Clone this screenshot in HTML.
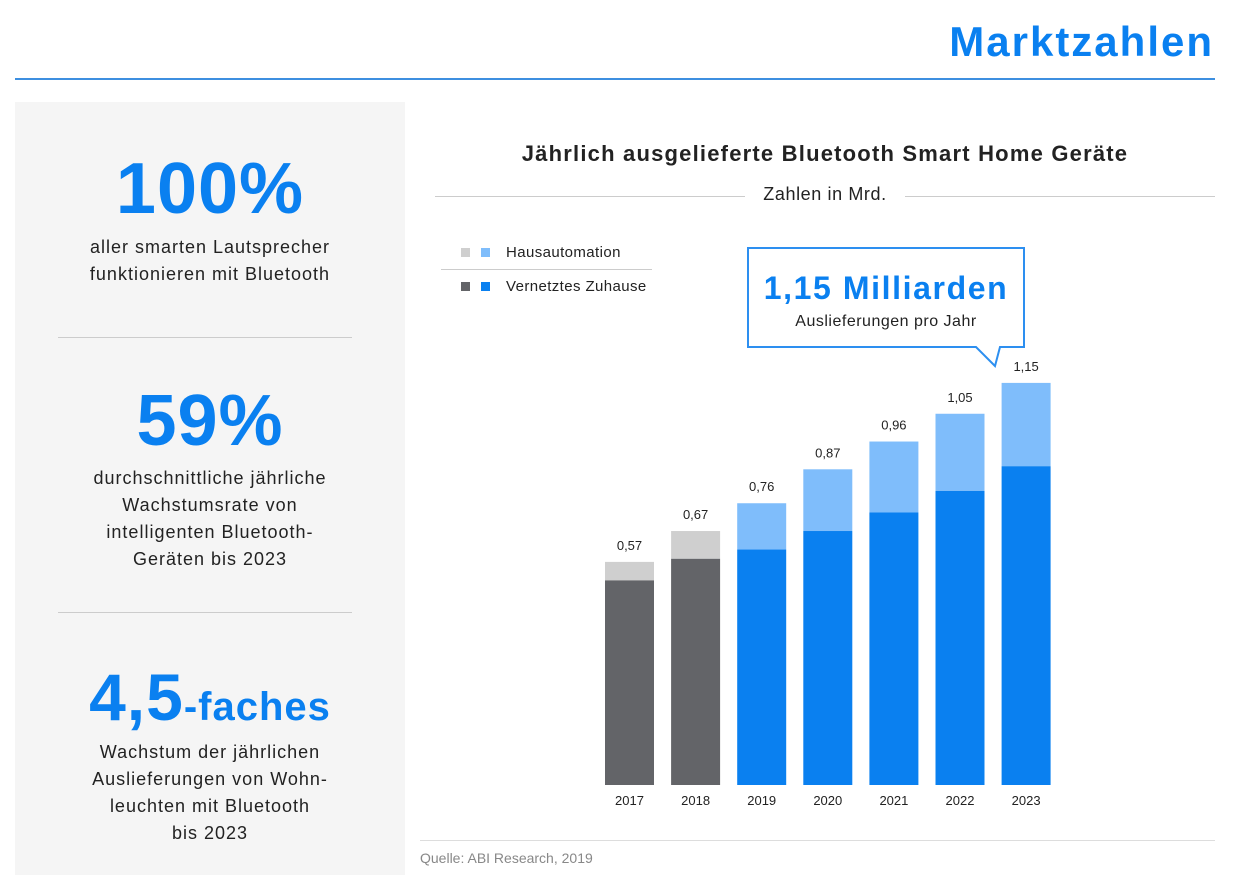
<!DOCTYPE html>
<html><head><meta charset="utf-8">
<style>
body{margin:0;width:1242px;height:875px;background:#fff;font-family:"Liberation Sans",sans-serif;position:relative;overflow:hidden}
.abs{position:absolute}
.big{color:#0a80f0;font-weight:bold;text-align:center;width:390px;left:15px}
.txt{color:#222;font-size:18px;line-height:27px;text-align:center;width:390px;left:15px;letter-spacing:1px}
</style></head><body>
<div class="abs" style="right:28px;top:18px;font-size:42px;font-weight:bold;color:#0a80f0;letter-spacing:2px">Marktzahlen</div>
<div class="abs" style="left:15px;top:78px;width:1200px;height:2px;background:#3d8fe0"></div>

<div class="abs" style="left:15px;top:102px;width:390px;height:773px;background:#f5f5f5"></div>
<div class="abs big" style="top:148px;font-size:72px;letter-spacing:1px">100%</div>
<div class="abs txt" style="top:234px">aller smarten Lautsprecher<br>funktionieren mit Bluetooth</div>
<div class="abs" style="left:58px;top:337px;width:294px;height:1px;background:#ccc"></div>
<div class="abs big" style="top:380px;font-size:72px;letter-spacing:1px">59%</div>
<div class="abs txt" style="top:465px">durchschnittliche jährliche<br>Wachstumsrate von<br>intelligenten Bluetooth-<br>Geräten bis 2023</div>
<div class="abs" style="left:58px;top:612px;width:294px;height:1px;background:#ccc"></div>
<div class="abs big" style="top:659px;font-size:66px;letter-spacing:1px">4,5<span style="font-size:40px">-faches</span></div>
<div class="abs txt" style="top:739px">Wachstum der jährlichen<br>Auslieferungen von Wohn-<br>leuchten mit Bluetooth<br>bis 2023</div>

<div class="abs" style="left:420px;width:810px;text-align:center;top:141px;font-size:22px;font-weight:bold;color:#222;letter-spacing:1.2px">Jährlich ausgelieferte Bluetooth Smart Home Geräte</div>
<div class="abs" style="left:435px;top:196px;width:780px;height:1px;background:#ccc"></div>
<div class="abs" style="left:745px;width:160px;text-align:center;top:184px;font-size:18px;color:#222;background:#fff;letter-spacing:0.6px">Zahlen in Mrd.</div>

<div class="abs" style="left:461px;top:244px;font-size:15px;color:#222;white-space:nowrap;letter-spacing:0.4px"><span style="display:inline-block;width:9px;height:9px;background:#cfcfcf;margin-right:11px"></span><span style="display:inline-block;width:9px;height:9px;background:#7fbdfb;margin-right:16px"></span>Hausautomation</div>
<div class="abs" style="left:441px;top:269px;width:211px;height:1px;background:#ccc"></div>
<div class="abs" style="left:461px;top:278px;font-size:15px;color:#222;white-space:nowrap;letter-spacing:0.4px"><span style="display:inline-block;width:9px;height:9px;background:#636468;margin-right:11px"></span><span style="display:inline-block;width:9px;height:9px;background:#0a80f0;margin-right:16px"></span>Vernetztes Zuhause</div>

<svg class="abs" style="left:740px;top:240px" width="295" height="135">
<path d="M8 8 H284 V107 H260 L255 126 L236 107 H8 Z" fill="#fff" stroke="#2d8ff0" stroke-width="2"/>
<text x="146" y="59" text-anchor="middle" font-size="32" font-weight="bold" fill="#0a80f0" letter-spacing="1.6" font-family="Liberation Sans, sans-serif">1,15 Milliarden</text>
<text x="146" y="86" text-anchor="middle" font-size="16" fill="#222" letter-spacing="0.5" font-family="Liberation Sans, sans-serif">Auslieferungen pro Jahr</text>
</svg>

<svg id="chart" class="abs" style="left:0;top:0" width="1242" height="875"></svg>

<div class="abs" style="left:420px;top:840px;width:795px;height:1px;background:#ddd"></div>
<div class="abs" style="left:420px;top:850px;font-size:14px;color:#888">Quelle: ABI Research, 2019</div>

<script>
const years=["2017","2018","2019","2020","2021","2022","2023"];
const baseValues=[0.51,0.58,0.61,0.67,0.73,0.80,0.88];
const totalValues=[0.57,0.67,0.76,0.87,0.96,1.05,1.15];
const totalLabels=["0,57","0,67","0,76","0,87","0,96","1,05","1,15"];
const svg=document.getElementById('chart');
const NS="http://www.w3.org/2000/svg";
const baseY=785, scale=308.6, v0=-0.153;
function y(v){return baseY-scale*(v-v0);}
function x(i){return 605+i*66.1;}
const bw=49;
function mk(t,a){const e=document.createElementNS(NS,t);for(const k in a)e.setAttribute(k,a[k]);svg.appendChild(e);return e;}
years.forEach((yr,i)=>{
  const old=i<2;
  const top=mk('rect',{x:x(i),y:y(totalValues[i]),width:bw,height:y(baseValues[i])-y(totalValues[i]),fill:old?'#cfcfcf':'#7fbdfb'});
  
  
  const b=mk('rect',{x:x(i),y:y(baseValues[i]),width:bw,height:baseY-y(baseValues[i]),fill:old?'#636468':'#0a80f0'});
  
  
  const l=mk('text',{x:x(i)+bw/2,y:y(totalValues[i])-12,'text-anchor':'middle','font-size':13,fill:'#222','font-family':'Liberation Sans, sans-serif'});
  l.textContent=totalLabels[i];
  
  
  const t=mk('text',{x:x(i)+bw/2,y:805,'text-anchor':'middle','font-size':13,fill:'#222','font-family':'Liberation Sans, sans-serif'});
  t.textContent=yr;
  
  
});
</script>
</body></html>
